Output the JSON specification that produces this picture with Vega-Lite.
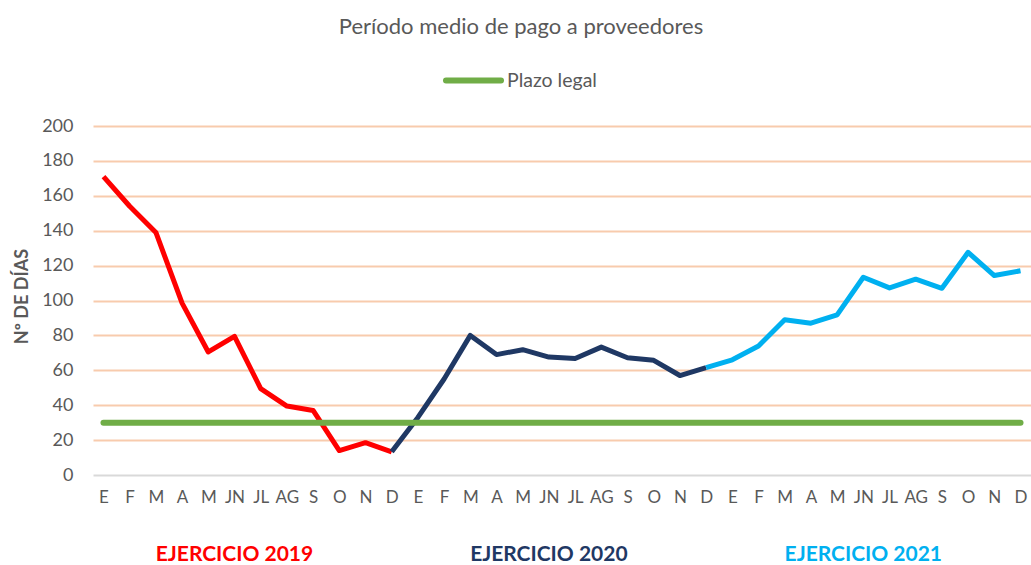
{
  "$schema": "https://vega.github.io/schema/vega-lite/v6.json",
  "width": 938,
  "height": 349,
  "autosize": {"type": "none"},
  "padding": {"left": 93, "top": 126, "right": 0, "bottom": 90},
  "background": "white",
  "title": {
    "text": "Período medio de pago a proveedores",
    "anchor": "middle",
    "frame": "group",
    "dx": -41,
    "offset": 11,
    "font": "Lato",
    "fontSize": 22,
    "fontWeight": "normal",
    "color": "#595959"
  },
  "config": {
    "view": {"stroke": null},
    "font": "Lato",
    "axisY": {
      "values": [0, 20, 40, 60, 80, 100, 120, 140, 160, 180, 200],
      "labelOverlap": false,
      "title": "Nº DE DÍAS",
      "titleFont": "Lato",
      "titleFontSize": 18,
      "titleFontWeight": "bold",
      "titleColor": "#595959",
      "titlePadding": 10,
      "titleY": 170,
      "labelFont": "Lato",
      "labelFontSize": 18,
      "labelColor": "#595959",
      "labelPadding": 20,
      "domain": false,
      "ticks": false,
      "grid": true,
      "gridColor": "#F8CBAD",
      "gridWidth": 2
    }
  },
  "datasets": {
    "lineas": [
      {"mes": "E-19", "serie": "2019", "dias": 171},
      {"mes": "F-19", "serie": "2019", "dias": 154},
      {"mes": "M-19", "serie": "2019", "dias": 139},
      {"mes": "A-19", "serie": "2019", "dias": 98.5},
      {"mes": "MY-19", "serie": "2019", "dias": 70.5},
      {"mes": "JN-19", "serie": "2019", "dias": 79.5},
      {"mes": "JL-19", "serie": "2019", "dias": 49.5},
      {"mes": "AG-19", "serie": "2019", "dias": 39.5},
      {"mes": "S-19", "serie": "2019", "dias": 37},
      {"mes": "O-19", "serie": "2019", "dias": 14},
      {"mes": "N-19", "serie": "2019", "dias": 18.5},
      {"mes": "D-19", "serie": "2019", "dias": 13.3},
      {"mes": "D-19", "serie": "2020", "dias": 13.3},
      {"mes": "E-20", "serie": "2020", "dias": 33},
      {"mes": "F-20", "serie": "2020", "dias": 55},
      {"mes": "M-20", "serie": "2020", "dias": 80},
      {"mes": "A-20", "serie": "2020", "dias": 69},
      {"mes": "MY-20", "serie": "2020", "dias": 71.8},
      {"mes": "JN-20", "serie": "2020", "dias": 67.6},
      {"mes": "JL-20", "serie": "2020", "dias": 66.8},
      {"mes": "AG-20", "serie": "2020", "dias": 73.3},
      {"mes": "S-20", "serie": "2020", "dias": 67.2},
      {"mes": "O-20", "serie": "2020", "dias": 65.7},
      {"mes": "N-20", "serie": "2020", "dias": 57},
      {"mes": "D-20", "serie": "2020", "dias": 61.5},
      {"mes": "D-20", "serie": "2021", "dias": 61.5},
      {"mes": "E-21", "serie": "2021", "dias": 66},
      {"mes": "F-21", "serie": "2021", "dias": 73.9},
      {"mes": "M-21", "serie": "2021", "dias": 89},
      {"mes": "A-21", "serie": "2021", "dias": 87},
      {"mes": "MY-21", "serie": "2021", "dias": 91.8},
      {"mes": "JN-21", "serie": "2021", "dias": 113.3},
      {"mes": "JL-21", "serie": "2021", "dias": 107.2},
      {"mes": "AG-21", "serie": "2021", "dias": 112.2},
      {"mes": "S-21", "serie": "2021", "dias": 107},
      {"mes": "O-21", "serie": "2021", "dias": 127.6},
      {"mes": "N-21", "serie": "2021", "dias": 114.3},
      {"mes": "D-21", "serie": "2021", "dias": 117}
    ],
    "plazo": [
      {"mes": "E-19", "dias": 30},
      {"mes": "D-21", "dias": 30}
    ],
    "ejercicios": [
      {"mes": "JN-19", "serie": "2019", "texto": "EJERCICIO 2019"},
      {"mes": "JN-20", "serie": "2020", "texto": "EJERCICIO 2020"},
      {"mes": "JN-21", "serie": "2021", "texto": "EJERCICIO 2021"}
    ]
  },
  "encoding": {
    "x": {
      "field": "mes",
      "type": "ordinal",
      "scale": {
        "type": "point",
        "padding": 0.4,
        "domain": ["E-19","F-19","M-19","A-19","MY-19","JN-19","JL-19","AG-19","S-19","O-19","N-19","D-19",
                   "E-20","F-20","M-20","A-20","MY-20","JN-20","JL-20","AG-20","S-20","O-20","N-20","D-20",
                   "E-21","F-21","M-21","A-21","MY-21","JN-21","JL-21","AG-21","S-21","O-21","N-21","D-21"]
      },
      "axis": {
        "title": null,
        "labelExpr": "replace(split(datum.value, '-')[0], 'MY', 'M')",
        "labelAngle": 0,
        "labelOverlap": false,
        "labelFont": "Lato",
        "labelFontSize": 17,
        "labelColor": "#595959",
        "labelPadding": 14,
        "ticks": false,
        "domain": true,
        "domainColor": "#D9D9D9",
        "domainWidth": 2,
        "grid": false
      }
    }
  },
  "layer": [
    {
      "data": {"name": "lineas"},
      "mark": {"type": "line", "strokeWidth": 5, "strokeJoin": "round", "strokeCap": "butt"},
      "encoding": {
        "y": {
          "field": "dias",
          "type": "quantitative",
          "scale": {"domain": [0, 200], "nice": false, "zero": true},
          "axis": {"title": "Nº DE DÍAS", "gridColor": {"condition": {"test": "datum.value === 0", "value": "transparent"}, "value": "#F8CBAD"}}
        },
        "stroke": {
          "field": "serie",
          "type": "nominal",
          "scale": {"domain": ["2019", "2020", "2021"], "range": ["#FF0000", "#1F3864", "#00B0F0"]},
          "legend": null
        },
        "detail": {"field": "serie"}
      }
    },
    {
      "data": {"name": "plazo"},
      "mark": {"type": "line", "strokeWidth": 6, "strokeCap": "round"},
      "encoding": {
        "y": {"field": "dias", "type": "quantitative"},
        "color": {
          "datum": "Plazo legal",
          "type": "nominal",
          "scale": {"domain": ["Plazo legal"], "range": ["#70AD47"]},
          "legend": {
            "title": null,
            "orient": "none",
            "legendX": 350,
            "legendY": -76,
            "symbolType": "stroke",
            "symbolSize": 3025,
            "symbolStrokeWidth": 6,
            "labelFont": "Lato",
            "labelFontSize": 19.5,
            "labelColor": "#595959",
            "labelOffset": 3,
            "encode": {"symbols": {"update": {"strokeCap": {"value": "round"}}}}
          }
        }
      }
    },
    {
      "data": {"name": "ejercicios"},
      "mark": {"type": "text", "font": "Lato", "fontSize": 21, "fontWeight": "bold", "baseline": "middle", "align": "center"},
      "encoding": {
        "y": {"datum": -46, "type": "quantitative"},
        "text": {"field": "texto"},
        "fill": {
          "field": "serie",
          "type": "nominal",
          "scale": {"domain": ["2019", "2020", "2021"], "range": ["#FF0000", "#1F3864", "#00B0F0"]},
          "legend": null
        }
      }
    }
  ]
}
